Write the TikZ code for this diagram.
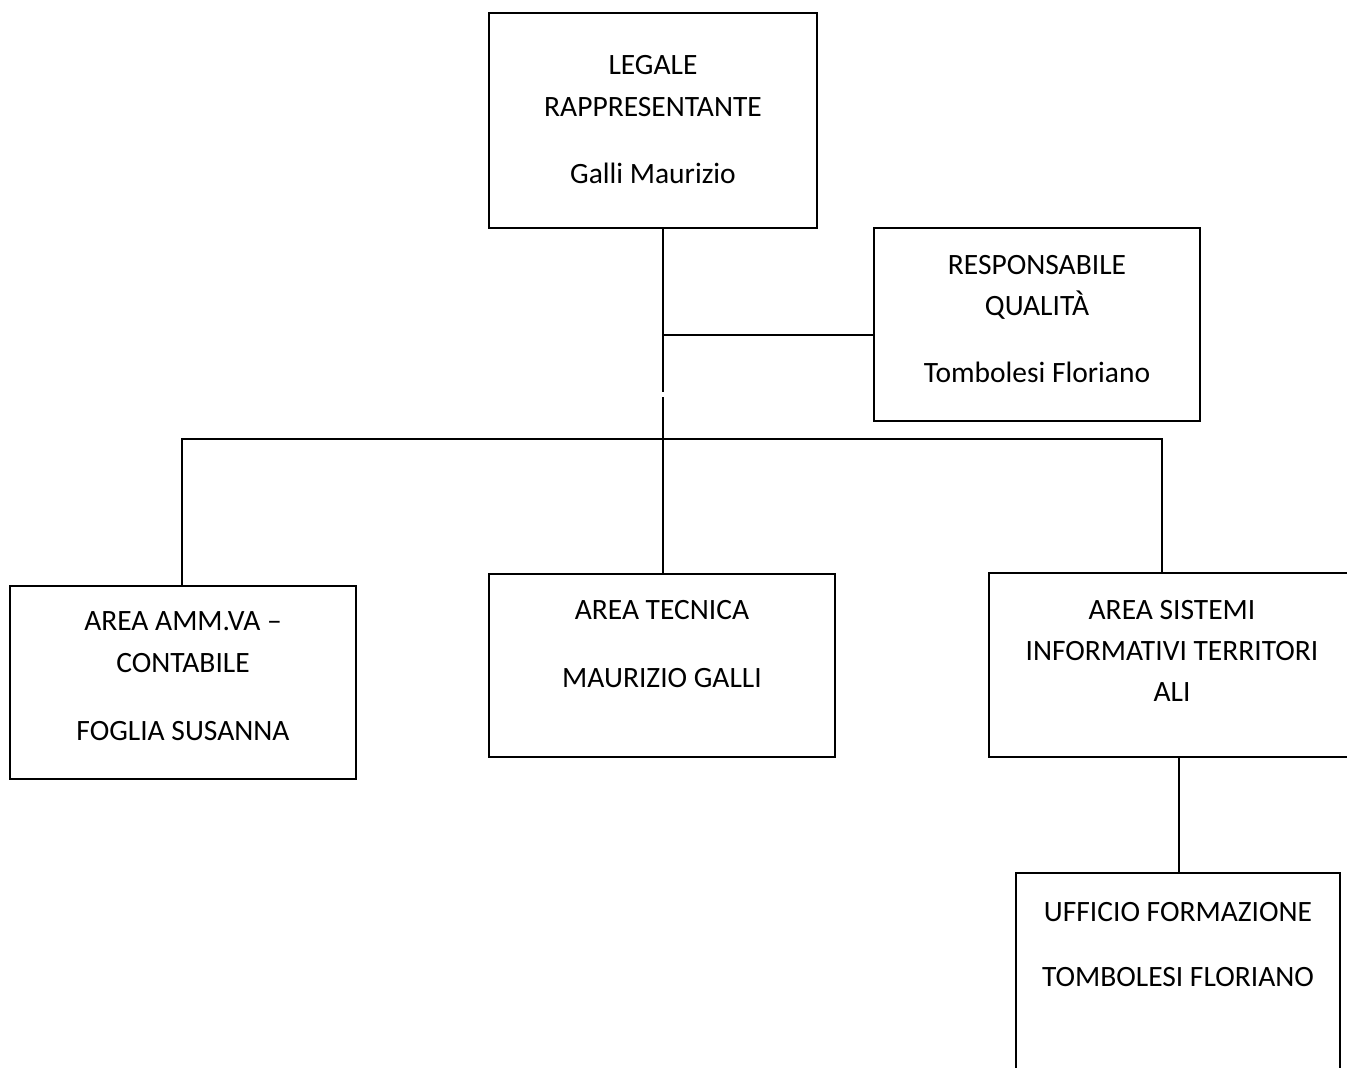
\documentclass[tikz,border=0pt]{standalone}
\usepackage{fontspec}
\setmainfont{Carlito}
\begin{document}
\begin{tikzpicture}[x=1pt,y=-1pt,
  box/.style={draw=black,line width=2pt,rectangle,inner sep=0pt},
  lbl/.style={anchor=base,inner sep=0pt,font=\fontsize{29.5}{34}\selectfont},
  conn/.style={line width=2pt,black}]
\clip (0,0) rectangle (1347,1068);
\fill[white] (0,0) rectangle (1347,1068);
% boxes
\node[box,minimum width=328pt,minimum height=215pt] (leg) at (653,120.5) {};
\node[box,minimum width=326pt,minimum height=193pt] (resp) at (1037,324.5) {};
\node[box,minimum width=346pt,minimum height=193pt] (amm) at (183,682.5) {};
\node[box,minimum width=346pt,minimum height=183pt] (tec) at (662,665.5) {};
\node[box,minimum width=380pt,minimum height=184pt] (sis) at (1179,665) {};
\node[box,minimum width=324pt,minimum height=215pt] (uff) at (1178,980.5) {};
% texts
\node[lbl] (t1) at (653,74) {LEGALE};
\node[lbl] (t2) at (653,116) {RAPPRESENTANTE};
\node[lbl] (t3) at (653,183) {Galli Maurizio};
\node[lbl] (t4) at (1037,274) {RESPONSABILE};
\node[lbl] (t5) at (1037,315) {QUALITÀ};
\node[lbl] (t6) at (1037,382) {Tombolesi Floriano};
\node[lbl] (t7) at (183,630) {AREA AMM.VA –};
\node[lbl] (t8) at (183,672) {CONTABILE};
\node[lbl] (t9) at (183,740) {FOGLIA SUSANNA};
\node[lbl] (t10) at (662,619) {AREA TECNICA};
\node[lbl] (t11) at (662,687) {MAURIZIO GALLI};
\node[lbl] (t12) at (1172,619) {AREA SISTEMI};
\node[lbl] (t13) at (1172,660) {INFORMATIVI TERRITORI};
\node[lbl] (t14) at (1172,701) {ALI};
\node[lbl] (t15) at (1178,921) {UFFICIO FORMAZIONE};
\node[lbl] (t16) at (1178,986) {TOMBOLESI FLORIANO};
% connectors
\coordinate (gapA) at (663,392);
\coordinate (gapB) at (663,397);
\coordinate (j1) at (663,335);
\draw[conn] (leg.south -| gapA) -- (gapA);
\draw[conn] (gapB) -- (tec.north -| gapB);
\draw[conn] (j1) -- (resp.west |- j1);
\draw[conn] (amm.north -| 182,0) -- (182,439) -- (1162,439) -- (sis.north -| 1162,0);
\draw[conn] (sis.south -| 1179,0) -- (uff.north -| 1179,0);
\end{tikzpicture}
\end{document}
